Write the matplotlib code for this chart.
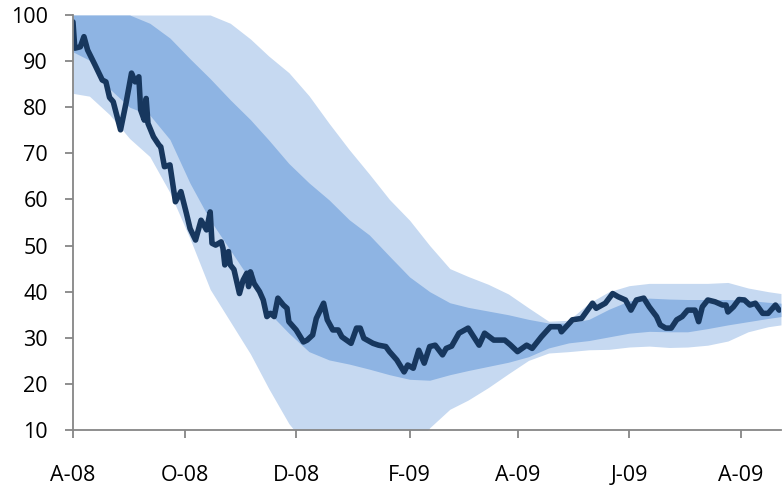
import matplotlib
matplotlib.use('Agg')
import matplotlib.pyplot as plt
import pandas as pd

# ---------------------------------------------
# DATA (days since 1 Aug 2008)
# ---------------------------------------------
START = pd.Timestamp('2008-08-01')

band_days = [0, 9, 20, 31, 42, 53, 64, 75, 86, 97, 107, 118, 129, 140, 151, 162,
             173, 184, 195, 206, 216, 227, 238, 249, 260, 271, 282, 293, 304, 315,
             326, 336, 347, 358, 369, 380, 387]

outer_upper = [100, 100, 100, 100, 100, 100, 100, 100, 98.2, 94.8, 91.1, 87.5, 82.5,
               76.5, 70.8, 65.5, 60.0, 55.5, 50.0, 45.0, 43.3, 41.6, 39.5, 36.5, 33.6,
               33.8, 37.5, 40.0, 41.3, 41.8, 41.8, 41.8, 41.8, 42.0, 40.8, 40.0, 39.6]
inner_upper = [100, 100, 100, 100, 98.2, 95.0, 90.5, 86.2, 81.6, 77.3, 72.9, 67.8,
               63.6, 59.9, 55.6, 52.3, 47.7, 43.2, 40.0, 37.6, 36.6, 35.8, 35.0, 34.0,
               33.2, 33.2, 34.0, 36.2, 38.0, 38.6, 38.4, 38.3, 38.3, 38.3, 38.1, 37.7, 37.5]
inner_lower = [92.0, 90.2, 84.0, 80.0, 78.3, 73.0, 63.5, 55.5, 49.0, 42.5, 35.5, 31.0,
               27.0, 25.2, 24.3, 23.2, 22.0, 21.0, 20.8, 22.0, 22.9, 23.8, 24.7, 25.9,
               27.8, 28.9, 29.4, 30.2, 31.0, 31.4, 31.3, 31.3, 32.0, 32.8, 33.5, 34.2, 34.6]
outer_lower = [83.0, 82.4, 78.4, 73.2, 69.3, 61.5, 51.5, 40.5, 33.5, 26.5, 19.0, 11.4,
               6.0, 3.0, 2.0, 2.0, 3.0, 5.0, 10.5, 14.5, 16.5, 19.2, 22.2, 25.1, 26.7,
               27.0, 27.4, 27.5, 28.0, 28.2, 27.9, 28.0, 28.4, 29.3, 31.3, 32.4, 32.8]

line_days = [0, 1, 4, 6, 8, 12, 16, 18, 20, 22, 26, 29, 32, 34, 36, 37, 39, 40, 41, 44,
             47, 48, 50, 53, 56, 59, 62, 64, 67, 70, 73, 75, 76, 78, 81, 82, 83, 85, 86,
             88, 91, 93, 95, 96, 97, 99, 102, 104, 106, 108, 110, 112, 115, 117, 118,
             122, 126, 128, 131, 133, 136, 137, 139, 142, 145, 147, 152, 155, 157, 159,
             164, 167, 171, 173, 177, 181, 183, 186, 189, 192, 195, 198, 202, 204, 207,
             211, 216, 222, 225, 230, 236, 239, 243, 248, 251, 256, 261, 266, 267, 273,
             278, 284, 286, 291, 295, 298, 302, 305, 308, 312, 315, 319, 321, 324, 327,
             330, 333, 336, 340, 342, 344, 347, 351, 355, 357, 358, 361, 364, 367, 370,
             373, 377, 380, 384, 386]
line_vals = [98.5, 92.8, 93.1, 95.3, 92.4, 89.2, 85.9, 85.5, 82.1, 81.2, 75.1, 80.9,
             87.4, 85.5, 86.6, 79.4, 77.2, 81.9, 76.5, 73.6, 71.8, 71.4, 67.1, 67.5,
             59.5, 61.7, 57.0, 53.7, 51.2, 55.5, 53.4, 57.3, 50.5, 50.1, 50.8, 49.4,
             45.8, 48.7, 45.8, 44.8, 39.6, 42.5, 44.0, 41.1, 44.3, 41.8, 40.0, 38.2,
             34.6, 35.3, 34.6, 38.6, 37.1, 36.4, 33.5, 31.7, 29.1, 29.5, 30.6, 34.2,
             36.7, 37.5, 33.9, 31.7, 31.7, 30.2, 28.8, 32.1, 32.1, 29.9, 28.8, 28.4,
             28.1, 27.0, 25.2, 22.6, 24.1, 23.4, 27.3, 24.5, 28.1, 28.4, 26.3, 27.7,
             28.2, 31.0, 32.1, 28.4, 31.0, 29.5, 29.5, 28.5, 27.0, 28.4, 27.7, 30.2,
             32.4, 32.4, 31.3, 33.9, 34.2, 37.5, 36.4, 37.5, 39.6, 38.9, 38.2, 36.0,
             38.2, 38.6, 36.7, 34.6, 32.8, 32.1, 32.1, 33.9, 34.6, 36.0, 36.0, 33.5,
             36.7, 38.2, 37.8, 37.1, 37.1, 35.6, 36.7, 38.3, 38.2, 37.1, 37.5, 35.3,
             35.3, 37.1, 36.0]

tick_dates = ['2008-08-01', '2008-10-01', '2008-12-01', '2009-02-01',
              '2009-04-01', '2009-06-01', '2009-08-01']
tick_labels = ['A-08', 'O-08', 'D-08', 'F-09', 'A-09', 'J-09', 'A-09']
y_ticks = list(range(10, 101, 10))

# ---------------------------------------------
# PLOT
# ---------------------------------------------
plt.rcParams['font.family'] = ['Open Sans', 'DejaVu Sans']

band_x = START + pd.to_timedelta(band_days, unit='D')
line_x = START + pd.to_timedelta(line_days, unit='D')

fig = plt.figure(figsize=(7.83, 4.87), dpi=100)
ax = fig.add_axes([0.0932, 0.1170, 0.9042, 0.8522])

ax.fill_between(band_x, outer_lower, outer_upper, color='#C6D9F1', lw=0)
ax.fill_between(band_x, inner_lower, inner_upper, color='#8EB4E3', lw=0)
ax.plot(line_x, line_vals, color='#17375E', lw=4.0, solid_joinstyle='round',
        solid_capstyle='round')

ax.set_ylim(10, 100)
ax.set_xlim(START, START + pd.Timedelta(days=387))
ax.set_yticks(y_ticks)
ax.set_xticks(pd.to_datetime(tick_dates))
ax.set_xticklabels(tick_labels)

for s in ['top', 'right']:
    ax.spines[s].set_visible(False)
for s in ['left', 'bottom']:
    ax.spines[s].set_color('#868686')
    ax.spines[s].set_linewidth(1.3)

ax.tick_params(axis='both', direction='out', length=6, width=1.3, color='#868686',
               labelsize=15.5, labelcolor='black')
ax.tick_params(axis='y', pad=12)
ax.tick_params(axis='x', pad=19)

fig.savefig('out.png', dpi=100)
